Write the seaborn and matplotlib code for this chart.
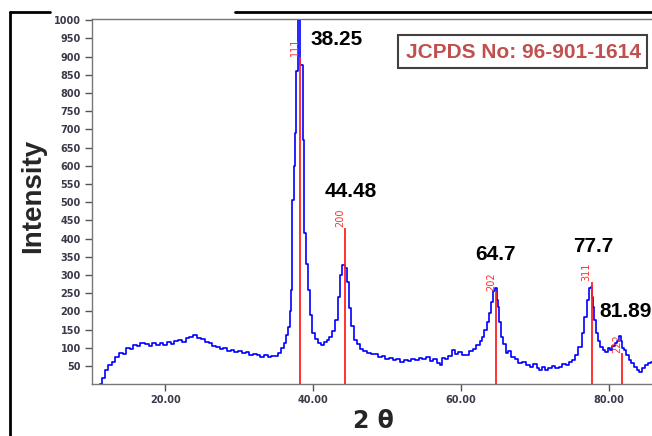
import pandas as pd
import seaborn as sns
import matplotlib.pyplot as plt
from matplotlib.lines import Line2D
from matplotlib.patches import Rectangle

# XRD pattern (2theta, intensity)
two_theta = [11.2, 11.6, 12.1, 12.5, 13.0, 13.5, 14.1, 14.5, 15.0, 15.4, 15.9, 16.4, 16.9, 17.5,
             18.0, 18.5, 19.0, 19.5, 20.0, 20.5, 21.0, 21.5, 22.0, 22.5, 23.0, 23.5, 24.1, 24.6,
             25.1, 25.6, 26.1, 26.6, 27.1, 27.6, 28.1, 28.6, 29.1, 29.6, 30.1, 30.6, 31.1, 31.6,
             32.1, 32.6, 33.1, 33.6, 34.1, 34.6, 35.1, 35.5, 35.9, 36.2, 36.5, 36.7, 36.9, 37.1,
             37.3, 37.5, 37.6, 37.8, 38.0, 38.2, 38.35, 38.5, 38.7, 38.9, 39.1, 39.4, 39.7, 40.0,
             40.4, 40.9, 41.3, 41.6, 42.0, 42.3, 42.7, 43.1, 43.5, 43.8, 44.1, 44.4, 44.7, 45.0,
             45.3, 45.7, 46.1, 46.5, 47.0, 47.5, 48.0, 48.5, 49.0, 49.5, 50.0, 50.5, 51.0, 51.5,
             52.0, 52.5, 53.0, 53.5, 54.0, 54.5, 55.0, 55.5, 56.0, 56.5, 57.0, 57.2, 57.6, 58.0,
             58.5, 59.0, 59.4, 59.8, 60.3, 60.8, 61.3, 61.8, 62.3, 62.7, 63.0, 63.3, 63.6, 63.9,
             64.2, 64.5, 64.7, 64.9, 65.0, 65.3, 65.5, 65.8, 66.2, 66.6, 67.0, 67.5, 68.0, 68.5,
             69.0, 69.5, 70.0, 70.4, 70.7, 71.2, 71.6, 72.0, 72.5, 73.0, 73.4, 73.9, 74.4, 74.8,
             75.2, 75.6, 76.1, 76.5, 76.8, 77.1, 77.4, 77.6, 77.8, 77.9, 78.1, 78.3, 78.6, 79.0,
             79.3, 79.6, 80.0, 80.3, 80.6, 80.9, 81.2, 81.5, 81.7, 81.9, 82.2, 82.5, 82.8, 83.2,
             83.6, 84.0, 84.2, 84.6, 85.0, 85.5, 85.8]
intensity = [0, 18, 39, 52, 62, 76, 87, 84, 100, 97, 108, 104, 112, 110,
             106, 112, 109, 113, 108, 116, 111, 118, 121, 117, 126, 129, 135, 128,
             124, 117, 112, 106, 103, 97, 99, 92, 94, 88, 91, 85, 88, 80,
             84, 79, 76, 80, 74, 77, 77, 87, 100, 112, 135, 158, 200, 259,
             506, 600, 690, 860, 1000, 1000, 877, 877, 671, 415, 330, 259, 190, 140,
             125, 112, 108, 117, 122, 130, 145, 175, 240, 300, 327, 318, 280, 210,
             160, 121, 110, 98, 90, 86, 82, 84, 75, 78, 70, 73, 66, 70,
             62, 67, 64, 70, 66, 72, 68, 74, 65, 70, 58, 53, 72, 68,
             78, 94, 82, 88, 79, 80, 92, 98, 108, 118, 130, 150, 170, 195,
             225, 255, 263, 230, 213, 170, 130, 110, 85, 92, 75, 68, 57, 62,
             52, 48, 55, 44, 39, 46, 40, 44, 50, 44, 48, 55, 52, 62,
             66, 80, 103, 140, 185, 230, 263, 268, 240, 213, 175, 140, 120, 103,
             95, 89, 100, 94, 105, 112, 120, 132, 118, 100, 94, 80, 66, 58,
             46, 40, 34, 45, 52, 57, 60]

# JCPDS reference lines
ref_pos = [38.2, 44.3, 64.7, 77.66, 81.8]
ref_height = [900, 429, 253, 281, 85]
ref_hkl = ['111', '200', '202', '311', '222']

# peak labels
peak_text = ['38.25', '44.48', '64.7', '77.7', '81.89']
peak_x = [43.2, 45.1, 64.7, 77.8, 82.2]
peak_y = [948, 529, 355, 377, 200]

df = pd.DataFrame({'two_theta': two_theta, 'intensity': intensity})

sns.set_style('white')
plt.rcParams['font.family'] = ['Liberation Sans', 'DejaVu Sans']

fig = plt.figure(figsize=(6.52, 4.36), dpi=100)
ax = fig.add_axes([92 / 652, 1 - 384.2 / 436, 1 - 92 / 652, (384.2 - 19) / 436])

sns.lineplot(data=df, x='two_theta', y='intensity', ax=ax, color='#0000ff',
             linewidth=1.2, drawstyle='steps-mid', sort=False, zorder=2)

ax.vlines(ref_pos, 0, ref_height, color='#ff2222', linewidth=1.3, zorder=3)
for x, h, lab in zip(ref_pos, ref_height, ref_hkl):
    ax.text(x, h + 2, lab, rotation=90, ha='right', va='bottom', color='#ff3030',
            fontsize=7, family='DejaVu Sans')

for t, x, y in zip(peak_text, peak_x, peak_y):
    ax.text(x, y, t, ha='center', va='center', fontsize=15, fontweight='bold', color='black')

ax.set_xlim(10.1, 85.8)
ax.set_ylim(0, 1003)
ax.set_xticks([20, 40, 60, 80])
ax.set_xticklabels(['20.00', '40.00', '60.00', '80.00'])
ax.set_yticks(list(range(50, 1001, 50)))
ax.tick_params(axis='both', direction='out', length=5, width=1, color='#555555',
               labelsize=7, labelcolor='#3a3a4a', pad=3)
ax.tick_params(axis='y', left=True)
ax.tick_params(axis='x', bottom=True)
for lab in ax.get_xticklabels() + ax.get_yticklabels():
    lab.set_family('DejaVu Sans')
    lab.set_fontweight('bold')

for s in ['left', 'bottom', 'top']:
    ax.spines[s].set_color('#777777')
    ax.spines[s].set_linewidth(1.0)
ax.spines['right'].set_visible(False)

ax.set_xlabel('')
ax.set_ylabel('')
fig.text(33 / 652, 1 - 196 / 436, 'Intensity', rotation=90, ha='center', va='center',
         fontsize=20, fontweight='bold')
fig.text(373 / 652, 1 - 421 / 436, '2 θ', ha='center', va='center',
         fontsize=17, fontweight='bold', family='DejaVu Sans')

# JCPDS box
fig.add_artist(Rectangle((398 / 652, 1 - 68 / 436), 249 / 652, 33 / 436,
                         transform=fig.transFigure, fill=False, edgecolor='#404040',
                         linewidth=1.5))
fig.text(523 / 652, 1 - 52 / 436, 'JCPDS No: 96-901-1614', ha='center', va='center',
         fontsize=15, fontweight='bold', color='#c0504d')

# outer frame lines
fig.add_artist(Line2D([10 / 652, 10 / 652], [0, 1 - 12 / 436], transform=fig.transFigure,
                      color='black', linewidth=2))
fig.add_artist(Line2D([10 / 652, 50 / 652], [1 - 12 / 436, 1 - 12 / 436],
                      transform=fig.transFigure, color='black', linewidth=2))
fig.add_artist(Line2D([235 / 652, 1], [1 - 12 / 436, 1 - 12 / 436],
                      transform=fig.transFigure, color='black', linewidth=2))

fig.savefig('out.png', dpi=100)
